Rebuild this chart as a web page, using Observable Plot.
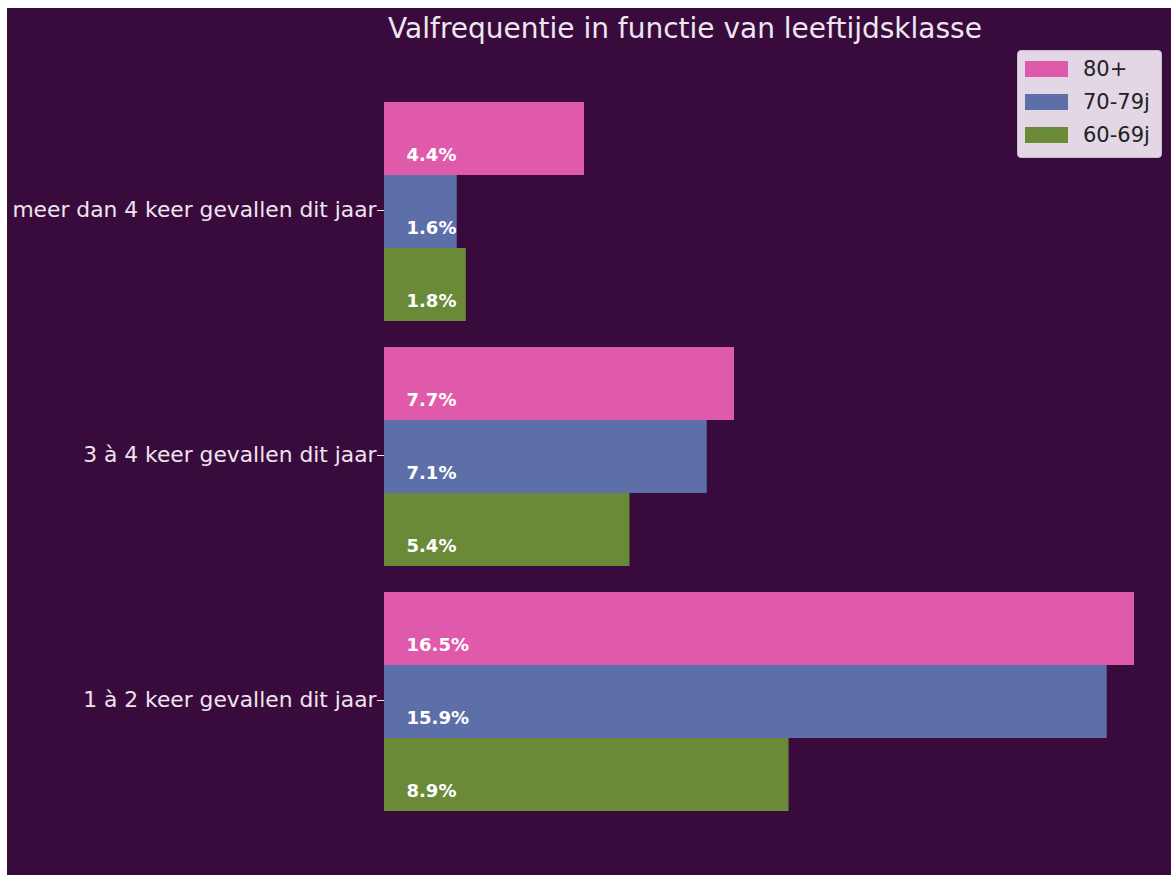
<!DOCTYPE html>
<html>
<head>
<meta charset="utf-8">
<script src="https://cdn.jsdelivr.net/npm/d3@7"></script>
<script src="https://cdn.jsdelivr.net/npm/@observablehq/plot@0.6"></script>
<style>
  html, body { margin: 0; padding: 0; background: #ffffff; }
  #wrap { position: relative; width: 1171px; height: 875px; overflow: hidden; font-family: "DejaVu Sans", sans-serif; }
  #chart { position: absolute; left: 7px; top: 8px; width: 1164px; height: 867px; background: #390b3c; }
  #title { position: absolute; left: 285px; top: 12px; width: 800px; text-align: center; font-size: 28px; color: #eee6f0; white-space: nowrap; }
  #legend { position: absolute; left: 1017px; top: 50px; width: 145px; height: 108px; box-sizing: border-box;
            background: #e3d6e5; border: 1px solid #cbbccd; border-radius: 4px; }
  .row { position: absolute; left: 7px; height: 22px; display: flex; align-items: center; }
  .sw { width: 43px; height: 16px; margin-right: 15px; }
  .lab { font-size: 21px; color: #222222; }
</style>
</head>
<body>
<div id="wrap">
  <div id="chart"></div>
  <div id="title">Valfrequentie in functie van leeftijdsklasse</div>
  <div id="legend"></div>
</div>
<script>
const categories = ["meer dan 4 keer gevallen dit jaar", "3 à 4 keer gevallen dit jaar", "1 à 2 keer gevallen dit jaar"];
const groups = ["80+", "70-79j", "60-69j"];
const values80 = [4.4, 7.7, 16.5];
const values70 = [1.6, 7.1, 15.9];
const values60 = [1.8, 5.4, 8.9];
const colors = ["#df5aab", "#5d6fa9", "#6a8a38"];

const series = [values80, values70, values60];
const data = [];
categories.forEach((c, i) => {
  groups.forEach((g, j) => {
    data.push({category: c, group: g, value: series[j][i]});
  });
});

const axisMark = (typeof Plot.axisFy === "function")
  ? [Plot.axisFy({anchor: "left", fontSize: 21.8, tickSize: 7, tickPadding: 1, color: "#efe3ef", label: null, dy: -1})]
  : [];

const plot = Plot.plot({
  width: 1164,
  height: 867,
  marginLeft: 377,
  marginRight: 37,
  marginTop: 92,
  marginBottom: 62,
  style: {background: "transparent", color: "#efe3ef", fontFamily: "DejaVu Sans", fontSize: "21.8px"},
  x: {domain: [0, 16.5], axis: null},
  y: {domain: groups, padding: 0, axis: null},
  fy: {domain: categories, paddingInner: 0.1016, paddingOuter: 0, label: null, axis: axisMark.length ? null : "left", tickSize: 7, tickPadding: 1},
  color: {domain: groups, range: colors},
  marks: [
    Plot.barX(data, {x: "value", y: "group", fy: "category", fill: "group"}),
    Plot.text(data, {x: 0, y: "group", fy: "category", text: d => d.value.toFixed(1) + "%",
      dx: 22, dy: 16, textAnchor: "start", fill: "#ffffff", fontWeight: "bold", fontSize: 18}),
    ...axisMark
  ]
});
document.getElementById("chart").appendChild(plot);

const legend = document.getElementById("legend");
groups.forEach((g, j) => {
  const row = document.createElement("div");
  row.className = "row";
  row.style.top = (7 + j * 33) + "px";
  row.innerHTML = `<div class="sw" style="background:${colors[j]}"></div><div class="lab">${g}</div>`;
  legend.appendChild(row);
});
</script>
</body>
</html>
